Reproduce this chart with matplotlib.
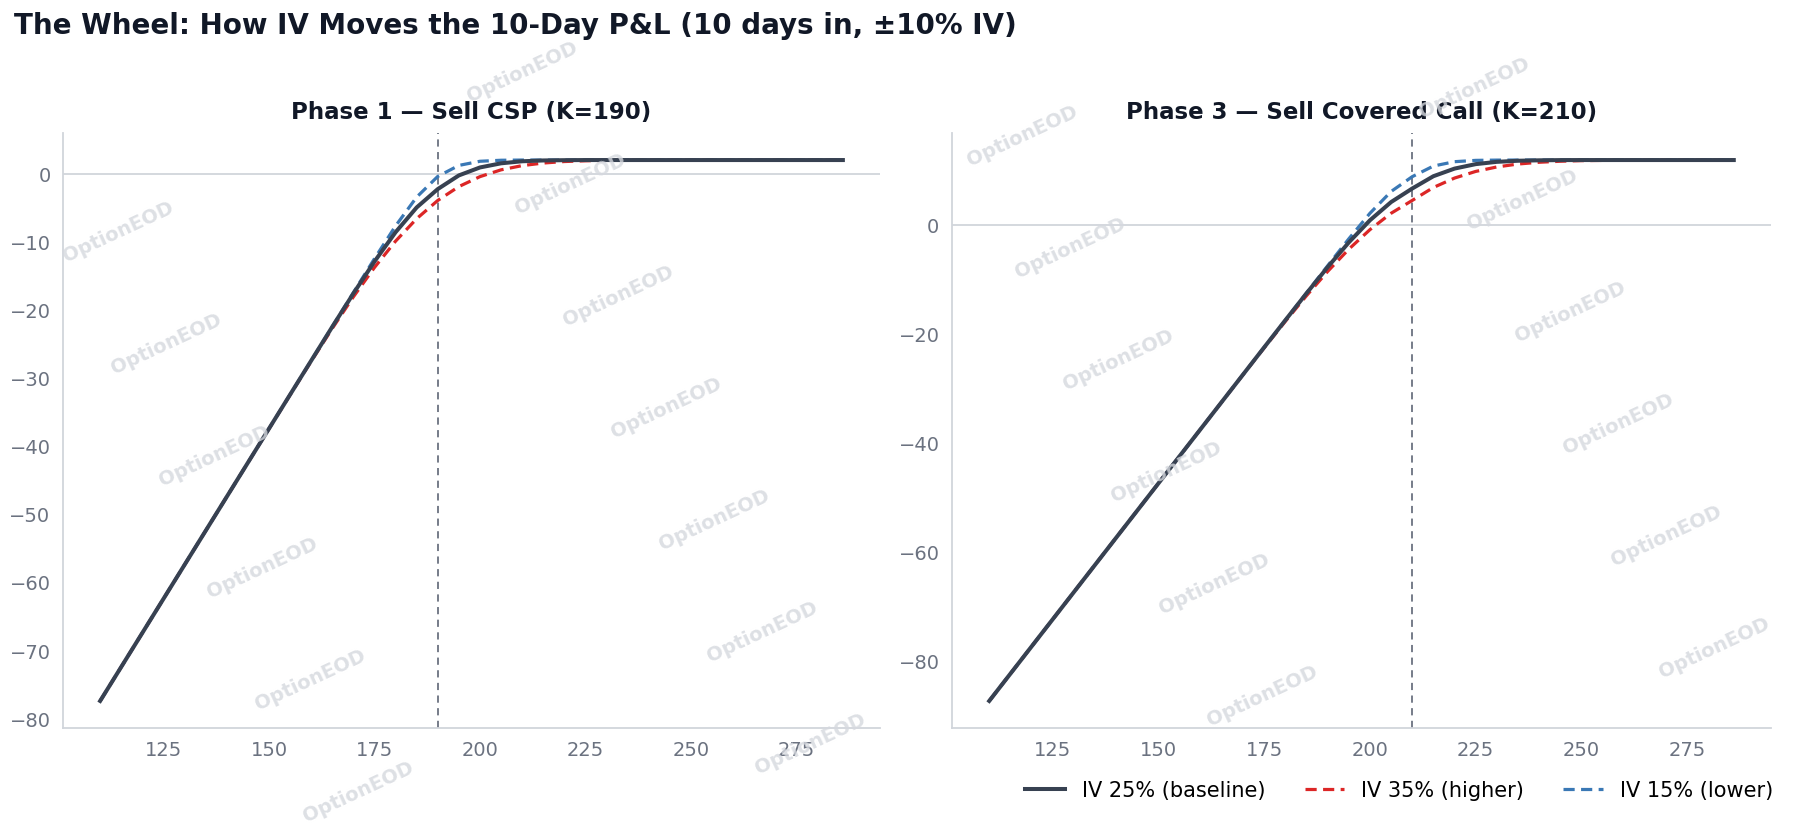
import matplotlib
matplotlib.use("Agg")
import matplotlib.pyplot as plt
from matplotlib.lines import Line2D

# --- palette ---
INK = "#111827"
TICK = "#6b7280"
SPINE = "#d1d5db"
BASE_C = "#374151"
RED_C = "#dc2626"
BLUE_C = "#3a78b5"
WM = "#d5d8de"

# --- data: underlying price grid and P&L per IV scenario ---
spot = [110, 120, 130, 140, 150, 155, 160, 165, 170, 175, 180, 185, 190, 195,
        200, 205, 210, 215, 220, 225, 230, 235, 240, 245, 250, 260, 270, 280, 286]

csp_strike = 190
csp_base = [-77.48, -67.48, -57.48, -47.48, -37.48, -32.48, -27.49, -22.51, -17.62,
            -12.92, -8.61, -4.97, -2.27, -0.26, 0.91, 1.52, 1.82, 1.94, 1.98, 2.00,
            2.00, 2.00, 2.00, 2.00, 2.00, 2.00, 2.00, 2.00, 2.00]
csp_high = [-77.48, -67.48, -57.48, -47.48, -37.50, -32.51, -27.58, -22.75, -18.11,
            -13.79, -9.92, -6.62, -3.94, -1.90, -0.44, 0.56, 1.18, 1.56, 1.78, 1.89,
            1.95, 1.98, 1.99, 2.00, 2.00, 2.00, 2.00, 2.00, 2.00]
csp_low = [-77.48, -67.48, -57.48, -47.48, -37.48, -32.48, -27.48, -22.48, -17.48,
           -12.50, -7.69, -3.45, -0.41, 1.21, 1.82, 1.97, 2.00, 2.00, 2.00, 2.00,
           2.00, 2.00, 2.00, 2.00, 2.00, 2.00, 2.00, 2.00, 2.00]

cc_strike = 210
cc_base = [-87.50, -77.50, -67.50, -57.50, -47.50, -42.50, -37.50, -32.50, -27.50,
           -22.50, -17.52, -12.58, -7.76, -3.22, 0.85, 4.20, 6.69, 8.95, 10.35, 11.17,
           11.59, 11.79, 11.87, 11.91, 11.92, 11.92, 11.92, 11.92, 11.92]
cc_high = [-87.50, -77.50, -67.50, -57.50, -47.50, -42.50, -37.50, -32.51, -27.53,
           -22.59, -17.73, -13.01, -8.55, -4.46, -0.87, 2.14, 4.50, 6.88, 8.61, 9.83,
           10.65, 11.19, 11.51, 11.70, 11.81, 11.89, 11.92, 11.92, 11.92]
cc_low = [-87.50, -77.50, -67.50, -57.50, -47.50, -42.50, -37.50, -32.50, -27.50,
          -22.50, -17.50, -12.50, -7.51, -2.56, 2.14, 6.14, 8.87, 10.82, 11.62, 11.86,
          11.91, 11.92, 11.92, 11.92, 11.92, 11.92, 11.92, 11.92, 11.92]

labels = ["IV 25% (baseline)", "IV 35% (higher)", "IV 15% (lower)"]
title = "The Wheel: How IV Moves the 10-Day P&L (10 days in, \u00b110% IV)"
panels = [
    ("Phase 1 \u2014 Sell CSP (K=190)", csp_strike, csp_base, csp_high, csp_low),
    ("Phase 3 \u2014 Sell Covered Call (K=210)", cc_strike, cc_base, cc_high, cc_low),
]

plt.rcParams.update({
    "font.family": "DejaVu Sans",
    "axes.spines.top": False, "axes.spines.right": False,
})

W, H = 1797, 828
fig = plt.figure(figsize=(W / 100, H / 100), dpi=100)

# faint watermark lattice (kept inside the canvas)
for i in range(-2, 6):
    for j in range(-1, 9):
        px = 70 + i * 452 + j * 48
        py = 120 - i * 48 + j * 112
        if 70 < px < W - 70 and 40 < py < H - 30:
            fig.text(px / W, 1 - py / H, "OptionEOD", rotation=25, fontsize=14,
                     fontweight="bold", color=WM, alpha=0.8, ha="center",
                     va="center", zorder=0)

ax_boxes = [(63, 880), (952, 1771)]
top_px, bot_px = 134, 729
for (x0, x1), (sub, k, base, high, low) in zip(ax_boxes, panels):
    ax = fig.add_axes([x0 / W, 1 - bot_px / H, (x1 - x0) / W, (bot_px - top_px) / H])
    ax.patch.set_alpha(0)
    ax.axhline(0, color=SPINE, lw=1.3, zorder=1)
    ax.axvline(k, color=TICK, lw=1.3, ls=(0, (4, 3)), zorder=1)
    ax.plot(spot, base, color=BASE_C, lw=2.9, zorder=4, label=labels[0])
    ax.plot(spot, high, color=RED_C, lw=2.3, ls=(0, (3.5, 2)), zorder=3, label=labels[1])
    ax.plot(spot, low, color=BLUE_C, lw=2.3, ls=(0, (3.5, 2)), zorder=3, label=labels[2])
    ax.set_xticks([125, 150, 175, 200, 225, 250, 275])
    ax.tick_params(length=0, labelsize=14, colors=TICK, pad=9)
    for s in ("left", "bottom"):
        ax.spines[s].set_color(SPINE)
        ax.spines[s].set_linewidth(1.3)
    ax.set_title(sub, fontsize=16.5, fontweight="bold", color=INK, pad=11)

fig.text(14 / W, 1 - 26 / H, title, fontsize=20, fontweight="bold", color=INK,
         ha="left", va="center")

handles = [
    Line2D([], [], color=BASE_C, lw=2.9),
    Line2D([], [], color=RED_C, lw=2.3, ls=(0, (3.5, 2))),
    Line2D([], [], color=BLUE_C, lw=2.3, ls=(0, (3.5, 2))),
]
fig.legend(handles, labels, loc="center right", bbox_to_anchor=(0.997, 1 - 791 / H),
           ncol=3, frameon=False, fontsize=15, handlelength=1.9, columnspacing=1.9,
           handletextpad=0.8)

fig.savefig("out.png", dpi=100, facecolor="white")
